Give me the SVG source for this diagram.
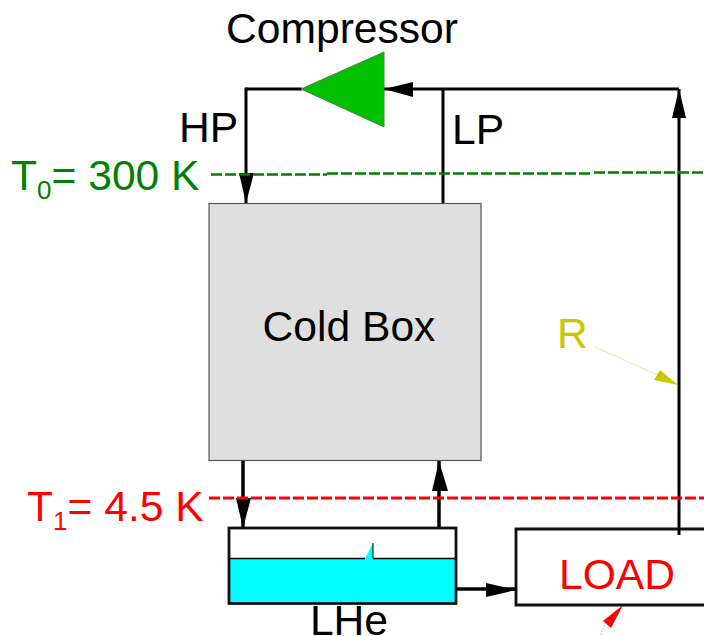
<svg xmlns="http://www.w3.org/2000/svg" width="704" height="636" viewBox="0 0 704 636">
<style>
text{font-family:"Liberation Sans",Arial,sans-serif;font-size:42.600px}
.k{fill:#000}.g{fill:#008000}.r{fill:#f00}.y{fill:#c8c800}
.w{fill:none;stroke:#000;stroke-width:3}
.w2{fill:none;stroke:#000;stroke-width:3.5}
.ah{fill:#000}
</style>
<rect width="704" height="636" fill="#fff"/>
<g id="connectors">
<path class="w" d="M246 89H302"/>
<path class="w" d="M246 87.500V203"/>
<path class="w" d="M384 89H679"/>
<path class="w" d="M443 89V203"/>
<path class="w" d="M679 89V535"/>
<path class="w2" d="M243 461V528"/>
<path class="w2" d="M439 461V528"/>
<path class="w2" d="M456 589H516"/>
<polygon class="ah" points="384,89 413,82 413,97"/>
<polygon class="ah" points="246,203 239,173 254,173"/>
<polygon class="ah" points="679,89 672,118 686,118"/>
<polygon class="ah" points="243,528 236,498 251,498"/>
<polygon class="ah" points="439,461 432,491 448,491"/>
<polygon class="ah" points="516,590 486,583 486,597"/>
<path fill="none" stroke="#008000" stroke-width="2.600" stroke-dasharray="11 3" d="M211 174.500H327M327 173.500H590M594 172.500H704"/>
<path fill="none" stroke="#f00" stroke-width="2.800" stroke-dasharray="11 3" d="M209 498H704"/>
<path fill="none" stroke="#e8e8a0" stroke-width="1" d="M595 347L660 376"/>
<polygon class="y" points="678,385 654,380 660,370"/>
<path fill="none" stroke="#ffb0b0" stroke-width="1" stroke-dasharray="2 1" d="M600 635L606 622"/>
<polygon class="r" points="623,605 611,628 603,621"/>
</g>
<g id="compressor">
<polygon points="301,89 384,52 384,127" fill="#00c000" stroke="#4d804d" stroke-width="1"/>
<text class="k" x="342" y="43" text-anchor="middle">Compressor</text>
</g>
<g id="hp"><text class="k" x="179" y="142">HP</text></g>
<g id="lp"><text class="k" x="452" y="144">LP</text></g>
<g id="t0"><text class="g" x="11" y="190">T<tspan font-size="26" dy="9">0</tspan><tspan dy="-9">= 300 K</tspan></text></g>
<g id="coldbox">
<rect x="209" y="203.500" width="272" height="257" fill="#dfdfdf" stroke="#555" stroke-width="1.200"/>
<text class="k" x="349" y="341" text-anchor="middle">Cold Box</text>
</g>
<g id="r"><text class="y" x="557" y="348">R</text></g>
<g id="t1"><text class="r" x="27" y="521">T<tspan font-size="26" dy="9">1</tspan><tspan dy="-9">= 4.5 K</tspan></text></g>
<g id="lhe">
<rect x="229" y="528" width="227" height="75" fill="#fff"/>
<path d="M229 558.500H365L373 543V558.500H456V603H229Z" fill="#0ff"/>
<path d="M229 558.500H365M373 558.500H456" fill="none" stroke="#000" stroke-width="1.500"/>
<path d="M373 543V558.500" fill="none" stroke="#000" stroke-width="1"/>
<rect x="229" y="528" width="227" height="75.500" fill="none" stroke="#111" stroke-width="2.800"/>
<text class="k" x="349" y="635" text-anchor="middle">LHe</text>
</g>
<g id="load">
<path d="M704 529H516V605H704" fill="#fff" stroke="#111" stroke-width="2.800"/>
<path class="w" d="M679 529V535"/>
<text class="r" x="617" y="589" text-anchor="middle">LOAD</text>
</g>
</svg>
